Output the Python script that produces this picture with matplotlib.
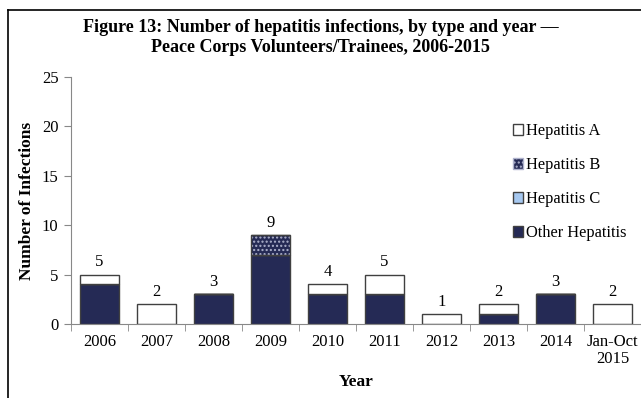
import matplotlib.pyplot as plt
import matplotlib.lines as mlines
from matplotlib.patches import Patch
import numpy as np

years = ["2006", "2007", "2008", "2009", "2010", "2011", "2012", "2013", "2014", "Jan-Oct\n2015"]
other_hep = [4, 0, 3, 7, 3, 3, 0, 1, 3, 0]
hep_c = [0, 0, 0, 0, 0, 0, 0, 0, 0, 0]
hep_b = [0, 0, 0, 2, 0, 0, 0, 0, 0, 0]
hep_a = [1, 2, 0, 0, 1, 2, 1, 1, 0, 2]

plt.rcParams['font.family'] = ['Liberation Serif', 'DejaVu Serif']

navy = "#252a55"
edge = "#404040"
axis_gray = "#888888"
dots = "#aeb2cc"

fig = plt.figure(figsize=(6.41, 3.98), dpi=100)
ax = fig.add_axes([71 / 641, 1 - 324 / 398, 570 / 641, 247 / 398])

x = np.arange(len(years))
w = 0.67
other = np.array(other_hep)
c = np.array(hep_c)
b = np.array(hep_b)
a = np.array(hep_a)

ax.bar(x, other, w, color=navy, edgecolor=edge, linewidth=1)
ax.bar(x, c, w, bottom=other, color="#a6c8f0", edgecolor=edge, linewidth=1)
# dotted fill for hepatitis B, outline drawn separately
ax.bar(x, b, w, bottom=other + c, color=navy, edgecolor=dots, hatch="....", linewidth=0)
ax.bar(x, b, w, bottom=other + c, fill=False, edgecolor=edge, linewidth=1)
ax.bar(x, a, w, bottom=other + c + b, color="white", edgecolor=edge, linewidth=1)

totals = other + c + b + a
for xi, t in zip(x, totals):
    ax.text(xi, t + 0.45, str(t), ha="center", va="bottom", fontsize=12)

ax.set_xlim(-0.5, len(years) - 0.5)
ax.set_ylim(0, 25)
ax.set_yticks(range(0, 26, 5))
ax.set_xticks(x)
ax.set_xticklabels(years, fontsize=12, linespacing=1.1)
ax.set_xticks(np.arange(-0.5, len(years), 1), minor=True)
ax.tick_params(axis="x", which="major", length=0, pad=7)
ax.tick_params(axis="x", which="minor", length=5, color=axis_gray)
ax.tick_params(axis="y", length=5, color=axis_gray, labelsize=12, pad=4)
for s in ["top", "right"]:
    ax.spines[s].set_visible(False)
for s in ["left", "bottom"]:
    ax.spines[s].set_color(axis_gray)

ax.set_ylabel("Number of Infections", fontsize=12.5, fontweight="bold", labelpad=5)
ax.set_xlabel("Year", fontsize=12.5, fontweight="bold", labelpad=5)

handles = [
    Patch(facecolor="white", edgecolor=edge, label="Hepatitis A"),
    Patch(facecolor=navy, edgecolor=dots, hatch="....", label="Hepatitis B"),
    Patch(facecolor="#a6c8f0", edgecolor=edge, label="Hepatitis C"),
    Patch(facecolor=navy, edgecolor=edge, label="Other Hepatitis"),
]
ax.legend(handles=handles, loc="upper left", bbox_to_anchor=(505 / 641, 1 - 115 / 398),
          bbox_transform=fig.transFigure, frameon=False, fontsize=11.8,
          handlelength=0.6, handleheight=0.6, handletextpad=0.2, labelspacing=1.1,
          borderpad=0)

fig.text(0.5, 1 - 28 / 398, "Figure 13: Number of hepatitis infections, by type and year \u2014",
         ha="center", va="center", fontsize=13, fontweight="bold")
fig.text(0.5, 1 - 48 / 398, "Peace Corps Volunteers/Trainees, 2006-2015",
         ha="center", va="center", fontsize=13, fontweight="bold")

# outer frame on the left and top
fig.add_artist(mlines.Line2D([8 / 641, 8 / 641], [0, 1 - 10 / 398], color="black", lw=1.2,
                             transform=fig.transFigure))
fig.add_artist(mlines.Line2D([8 / 641, 1], [1 - 10 / 398, 1 - 10 / 398], color="black", lw=1.2,
                             transform=fig.transFigure))

fig.savefig("out.png", dpi=100)
